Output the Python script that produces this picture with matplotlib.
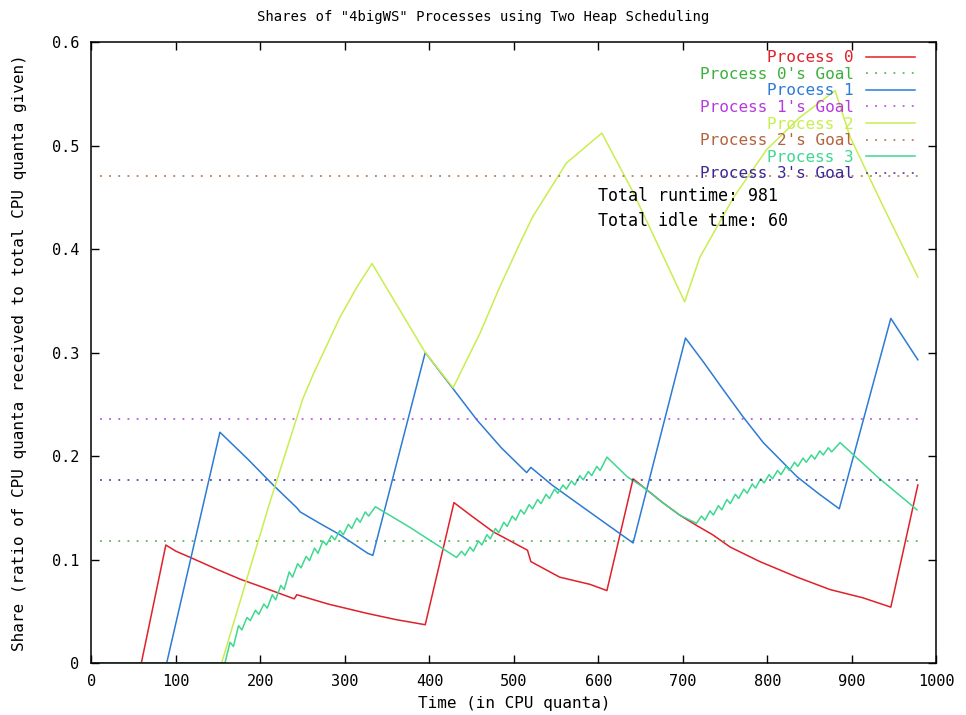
import matplotlib
matplotlib.use("Agg")
import matplotlib.pyplot as plt

# --- data (time in CPU quanta, share)
p0_time = [0, 59, 88, 100, 117, 150, 176, 200, 240, 243, 280, 326, 360, 395,
           429, 450, 475, 500, 516, 520, 554, 590, 610,
           641, 676, 696, 716, 735, 756, 791, 835, 874, 913, 946, 978]
p0_share = [0, 0, 0.114, 0.108, 0.102, 0.090, 0.081, 0.074, 0.062, 0.066, 0.057, 0.048, 0.042, 0.037,
            0.155, 0.142, 0.127, 0.116, 0.109, 0.098, 0.083, 0.076, 0.070,
            0.178, 0.155, 0.143, 0.133, 0.124, 0.112, 0.098, 0.083, 0.071, 0.063, 0.054, 0.172]

p1_time = [0, 89, 152, 185, 215, 243, 247, 270, 294, 327, 333,
           395, 427, 456, 485, 515, 520, 545, 574, 610, 641,
           703, 725, 746, 771, 795, 835, 860, 885, 946, 978]
p1_share = [0, 0, 0.223, 0.197, 0.172, 0.150, 0.146, 0.135, 0.124, 0.106, 0.104,
            0.300, 0.266, 0.235, 0.208, 0.184, 0.189, 0.172, 0.155, 0.134, 0.116,
            0.314, 0.290, 0.266, 0.238, 0.213, 0.180, 0.164, 0.149, 0.333, 0.293]

p2_time = [0, 154, 211, 250, 263, 294, 314, 332, 395, 428,
           460, 483, 505, 522, 562, 604, 641, 702,
           720, 760, 799, 838, 880, 898, 937, 978]
p2_share = [0, 0, 0.155, 0.255, 0.280, 0.334, 0.363, 0.386, 0.300, 0.266,
            0.319, 0.363, 0.402, 0.431, 0.483, 0.512, 0.455, 0.349,
            0.392, 0.450, 0.496, 0.527, 0.553, 0.508, 0.441, 0.373]

p3_time = [0, 158, 164, 168, 174, 178, 184, 188, 194, 198, 204, 208, 214, 218, 224, 228,
           234, 238, 244, 248, 254, 258, 264, 268, 274, 278, 284, 288, 294, 298, 304, 308,
           314, 318, 324, 328, 336, 377,
           432, 438, 442, 448, 452, 458, 462, 468, 472, 478, 482, 488, 492, 498, 502, 508,
           512, 518, 522, 528, 532, 538, 542, 548, 552, 558, 562, 568, 572, 578, 582, 588,
           592, 598, 602, 610, 634, 653, 676, 696,
           716, 722, 726, 732, 736, 742, 746, 752, 756, 762, 766, 772, 776, 782, 786, 792,
           796, 802, 806, 812, 816, 822, 826, 832, 836, 842, 846, 852, 856, 862, 866, 872,
           876, 886, 930, 977]
p3_share = [0, 0, 0.020, 0.016, 0.036, 0.032, 0.044, 0.041, 0.051, 0.047, 0.057, 0.053, 0.066, 0.061, 0.075, 0.071,
            0.088, 0.083, 0.096, 0.092, 0.103, 0.099, 0.111, 0.106, 0.118, 0.114, 0.123, 0.119, 0.128, 0.124, 0.134, 0.130,
            0.140, 0.136, 0.146, 0.142, 0.151, 0.131,
            0.102, 0.108, 0.104, 0.112, 0.108, 0.118, 0.114, 0.124, 0.120, 0.130, 0.126, 0.136, 0.132, 0.142, 0.138, 0.148,
            0.144, 0.153, 0.149, 0.158, 0.154, 0.163, 0.159, 0.168, 0.164, 0.172, 0.168, 0.176, 0.172, 0.181, 0.177, 0.185,
            0.181, 0.190, 0.186, 0.199, 0.180, 0.170, 0.155, 0.143,
            0.135, 0.142, 0.138, 0.147, 0.143, 0.152, 0.148, 0.158, 0.154, 0.163, 0.159, 0.168, 0.164, 0.173, 0.169, 0.178,
            0.174, 0.182, 0.178, 0.186, 0.182, 0.190, 0.186, 0.194, 0.190, 0.198, 0.194, 0.201, 0.197, 0.205, 0.201, 0.208,
            0.204, 0.213, 0.180, 0.148]

goal_span = [10, 981]
goal_shares = [0.1176, 0.2353, 0.4706, 0.1765]

labels = ["Process 0", "Process 1", "Process 2", "Process 3"]
line_colors = ["#e0202a", "#2c7bd4", "#c8ee50", "#3ed890"]
goal_colors = ["#3cb03c", "#b43cdc", "#b4643c", "#3c2896"]

runtime = 981
idle_time = 60

x_ticks = [0, 100, 200, 300, 400, 500, 600, 700, 800, 900, 1000]
y_ticks = [0, 0.1, 0.2, 0.3, 0.4, 0.5, 0.6]
y_tick_labels = ["0", "0.1", "0.2", "0.3", "0.4", "0.5", "0.6"]


def main():
    plt.rcParams["font.family"] = ["DejaVu Sans Mono"]
    fig = plt.figure(figsize=(9.66, 7.15), dpi=100)
    ax = fig.add_axes([0.0947, 0.0727, 0.8747, 0.8685])

    series = [(p0_time, p0_share), (p1_time, p1_share), (p2_time, p2_share), (p3_time, p3_share)]
    for i, (t, s) in enumerate(series):
        ax.plot(t, s, color=line_colors[i], lw=1.1, label=labels[i])
        ax.plot(goal_span, [goal_shares[i]] * 2, color=goal_colors[i], lw=1.1,
                linestyle=(0, (1.2, 4.8)), label=labels[i] + "'s Goal")

    ax.set_xlim(0, 1000)
    ax.set_ylim(0, 0.6)
    ax.set_xticks(x_ticks)
    ax.set_xticklabels([str(v) for v in x_ticks])
    ax.set_yticks(y_ticks)
    ax.set_yticklabels(y_tick_labels)
    ax.tick_params(direction="in", length=6, width=1, top=True, right=True,
                   labelsize=11, colors="black")
    ax.tick_params(axis="x", pad=8)
    ax.tick_params(axis="y", pad=9)
    for sp in ax.spines.values():
        sp.set_linewidth(1.1)

    ax.text(599, 0.451, f"Total runtime: {runtime}", fontsize=12, va="center", ha="left")
    ax.text(599, 0.427, f"Total idle time: {idle_time}", fontsize=12, va="center", ha="left")

    ax.legend(loc="upper right", bbox_to_anchor=(0.975, 0.987), frameon=False,
              markerfirst=False, labelcolor="linecolor", fontsize=11.5,
              handlelength=3.1, handletextpad=0.75, labelspacing=0.1,
              borderpad=0, borderaxespad=0)

    ax.set_xlabel("Time (in CPU quanta)", fontsize=11.5, labelpad=5)
    ax.set_ylabel("Share (ratio of CPU quanta received to total CPU quanta given)",
                  fontsize=11.5, labelpad=18)
    fig.text(0.5, 1 - 17 / 715, 'Shares of "4bigWS" Processes using Two Heap Scheduling',
             ha="center", va="center", fontsize=10)

    fig.savefig("out.png", dpi=100)


if __name__ == "__main__":
    main()
